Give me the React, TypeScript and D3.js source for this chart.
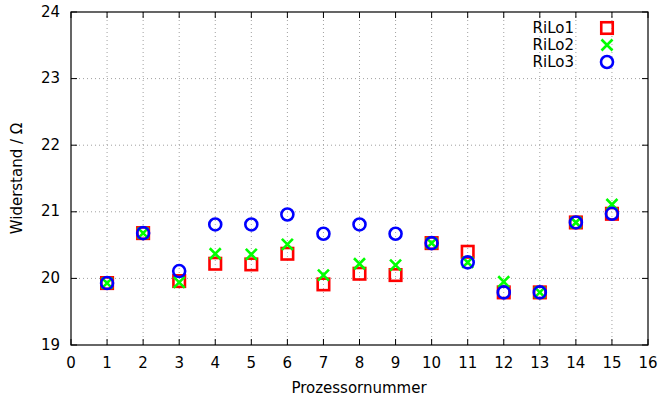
import React, { useEffect, useRef } from "react";
import * as d3 from "d3";

const processors = [1, 2, 3, 4, 5, 6, 7, 8, 9, 10, 11, 12, 13, 14, 15];
const rilo1 = [19.93, 20.68, 19.96, 20.22, 20.21, 20.37, 19.91, 20.07, 20.05, 20.53, 20.40, 19.79, 19.79, 20.84, 20.97];
const rilo2 = [19.93, 20.68, 19.94, 20.37, 20.36, 20.51, 20.05, 20.22, 20.20, 20.53, 20.24, 19.95, 19.79, 20.84, 21.11];
const rilo3 = [19.93, 20.68, 20.11, 20.81, 20.81, 20.96, 20.67, 20.81, 20.67, 20.53, 20.24, 19.79, 19.79, 20.84, 20.97];
const seriesNames = ["RiLo1", "RiLo2", "RiLo3"];
const xTicks = d3.range(0, 17);
const yTicks = [19, 20, 21, 22, 23, 24];

const W = 662, H = 401;
const L = 71, R = 648, T = 12, B = 345;
const FONT = "DejaVu Sans, sans-serif";
const FS = 15;

export default function App() {
  const ref = useRef<SVGSVGElement>(null);
  useEffect(() => {
    const svg = d3.select(ref.current);
    svg.selectAll("*").remove();
    const x = d3.scaleLinear().domain([0, 16]).range([L, R]);
    const y = d3.scaleLinear().domain([19, 24]).range([B, T]);

    const g = svg.append("g");
    xTicks.slice(1, -1).forEach((t) => {
      g.append("line").attr("x1", x(t)).attr("x2", x(t)).attr("y1", T).attr("y2", B)
        .attr("stroke", "#a0a0a0").attr("stroke-width", 1).attr("stroke-dasharray", "1,3");
    });
    yTicks.slice(1, -1).forEach((t) => {
      g.append("line").attr("x1", L).attr("x2", R).attr("y1", y(t)).attr("y2", y(t))
        .attr("stroke", "#a0a0a0").attr("stroke-width", 1).attr("stroke-dasharray", "1,3");
    });

    const tl = 6;
    xTicks.forEach((t) => {
      g.append("line").attr("x1", x(t)).attr("x2", x(t)).attr("y1", B).attr("y2", B - tl).attr("stroke", "#000");
      g.append("line").attr("x1", x(t)).attr("x2", x(t)).attr("y1", T).attr("y2", T + tl).attr("stroke", "#000");
      g.append("text").attr("x", x(t)).attr("y", B + 18).attr("text-anchor", "middle")
        .attr("dominant-baseline", "middle").attr("font-family", FONT).attr("font-size", FS).text(t);
    });
    yTicks.forEach((t) => {
      g.append("line").attr("x1", L).attr("x2", L + tl).attr("y1", y(t)).attr("y2", y(t)).attr("stroke", "#000");
      g.append("line").attr("x1", R).attr("x2", R - tl).attr("y1", y(t)).attr("y2", y(t)).attr("stroke", "#000");
      g.append("text").attr("x", L - 11).attr("y", y(t)).attr("text-anchor", "end")
        .attr("dominant-baseline", "middle").attr("font-family", FONT).attr("font-size", FS).text(t);
    });

    g.append("rect").attr("x", L).attr("y", T).attr("width", R - L).attr("height", B - T)
      .attr("fill", "none").attr("stroke", "#000").attr("stroke-width", 1.2);

    g.append("text").attr("x", 359).attr("y", 388).attr("text-anchor", "middle")
      .attr("dominant-baseline", "middle").attr("font-family", FONT).attr("font-size", FS).text("Prozessornummer");
    g.append("text").attr("transform", `translate(17,${(T + B) / 2}) rotate(-90)`).attr("text-anchor", "middle")
      .attr("dominant-baseline", "middle").attr("font-family", FONT).attr("font-size", FS).text("Widerstand / Ω");

    const sq = 11.5, cr = 6, xs = 5.5;
    const drawSquare = (cx: number, cy: number) =>
      g.append("rect").attr("x", cx - sq / 2).attr("y", cy - sq / 2).attr("width", sq).attr("height", sq)
        .attr("fill", "none").attr("stroke", "#ff0000").attr("stroke-width", 2.6);
    const drawX = (cx: number, cy: number) =>
      g.append("path").attr("d", `M${cx - xs},${cy - xs}L${cx + xs},${cy + xs}M${cx - xs},${cy + xs}L${cx + xs},${cy - xs}`)
        .attr("stroke", "#00ff00").attr("stroke-width", 2.6).attr("fill", "none");
    const drawCircle = (cx: number, cy: number) =>
      g.append("circle").attr("cx", cx).attr("cy", cy).attr("r", cr)
        .attr("fill", "none").attr("stroke", "#0000ff").attr("stroke-width", 2.6);

    processors.forEach((p, i) => drawSquare(x(p), y(rilo1[i])));
    processors.forEach((p, i) => drawX(x(p), y(rilo2[i])));
    processors.forEach((p, i) => drawCircle(x(p), y(rilo3[i])));

    const drawers = [drawSquare, drawX, drawCircle];
    seriesNames.forEach((n, i) => {
      const ly = 28 + i * 17;
      g.append("text").attr("x", 574).attr("y", ly).attr("text-anchor", "end")
        .attr("dominant-baseline", "middle").attr("font-family", FONT).attr("font-size", FS).text(n);
      drawers[i](607, ly);
    });
  }, []);
  return (
    <svg ref={ref} width={W} height={H} style={{ position: "absolute", left: 0, top: 0, background: "#fff" }} />
  );
}
